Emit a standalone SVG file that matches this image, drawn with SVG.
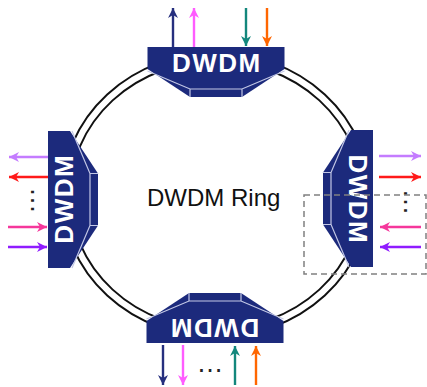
<svg xmlns="http://www.w3.org/2000/svg" xmlns:xlink="http://www.w3.org/1999/xlink" width="427" height="387" viewBox="0 0 427 387">
<style>
.dev{fill:#1c2a7c}
.hl{fill:none;stroke:#c3c8e6;stroke-width:1.2}
.lbl{font-family:"Liberation Sans",Arial,sans-serif;font-weight:bold;font-size:26px;fill:#fff;letter-spacing:1.5px}
.ring-t{font-family:"Liberation Sans",Arial,sans-serif;font-size:24px;fill:#111}
.dots{font-family:"Liberation Sans",Arial,sans-serif;font-size:27px;fill:#222}
.ar{fill:none;stroke-width:2.4}
</style>
<defs>
<g id="dev">
<polygon class="dev" points="-68.5,0 68.5,0 68.5,22 26,50 -26,50 -68.5,22"/>
<path class="hl" d="M-68.5,24 L-26,42 L26,42 L68.5,24 M-26,42 V50 M26,42 V50"/>
</g>
<marker id="m-navy" viewBox="0 0 10 10" refX="10" refY="5" markerWidth="10" markerHeight="10" markerUnits="userSpaceOnUse" orient="auto"><path d="M0,0 L10,5 L0,10 L3,5 z" fill="#262f7e"/></marker>
<marker id="m-mag" viewBox="0 0 10 10" refX="10" refY="5" markerWidth="10" markerHeight="10" markerUnits="userSpaceOnUse" orient="auto"><path d="M0,0 L10,5 L0,10 L3,5 z" fill="#ff5cff"/></marker>
<marker id="m-teal" viewBox="0 0 10 10" refX="10" refY="5" markerWidth="10" markerHeight="10" markerUnits="userSpaceOnUse" orient="auto"><path d="M0,0 L10,5 L0,10 L3,5 z" fill="#13877c"/></marker>
<marker id="m-org" viewBox="0 0 10 10" refX="10" refY="5" markerWidth="10" markerHeight="10" markerUnits="userSpaceOnUse" orient="auto"><path d="M0,0 L10,5 L0,10 L3,5 z" fill="#ff6600"/></marker>
<marker id="m-lav" viewBox="0 0 10 10" refX="10" refY="5" markerWidth="10" markerHeight="10" markerUnits="userSpaceOnUse" orient="auto"><path d="M0,0 L10,5 L0,10 L3,5 z" fill="#c47cff"/></marker>
<marker id="m-red" viewBox="0 0 10 10" refX="10" refY="5" markerWidth="10" markerHeight="10" markerUnits="userSpaceOnUse" orient="auto"><path d="M0,0 L10,5 L0,10 L3,5 z" fill="#ff1a1a"/></marker>
<marker id="m-pink" viewBox="0 0 10 10" refX="10" refY="5" markerWidth="10" markerHeight="10" markerUnits="userSpaceOnUse" orient="auto"><path d="M0,0 L10,5 L0,10 L3,5 z" fill="#f5379b"/></marker>
<marker id="m-pur" viewBox="0 0 10 10" refX="10" refY="5" markerWidth="10" markerHeight="10" markerUnits="userSpaceOnUse" orient="auto"><path d="M0,0 L10,5 L0,10 L3,5 z" fill="#8f1cff"/></marker>
</defs>
<rect width="427" height="387" fill="#fff"/>
<g id="ring">
<ellipse cx="216" cy="195" rx="150" ry="138" fill="none" stroke="#111" stroke-width="10"/>
<ellipse cx="216" cy="195" rx="150" ry="138" fill="none" stroke="#fff" stroke-width="6"/>
</g>
<g id="node-top" transform="translate(216,47)"><use xlink:href="#dev" href="#dev"/><text class="lbl" x="0.75" y="24.5" text-anchor="middle">DWDM</text></g>
<g id="node-bottom" transform="translate(215,343) rotate(180)"><use xlink:href="#dev" href="#dev"/><text class="lbl" x="0.75" y="24.5" text-anchor="middle">DWDM</text></g>
<g id="node-left" transform="translate(48,199.5) rotate(-90)"><use xlink:href="#dev" href="#dev"/><text class="lbl" x="0.75" y="24.5" text-anchor="middle">DWDM</text></g>
<g id="node-right" transform="translate(373,198.5) rotate(90)"><use xlink:href="#dev" href="#dev"/><text class="lbl" x="0.75" y="24.5" text-anchor="middle">DWDM</text></g>
<text id="ring-label" class="ring-t" x="147" y="206">DWDM Ring</text>
<g id="connectors">
<path class="ar" d="M173,47 V8" stroke="#262f7e" marker-end="url(#m-navy)"/>
<path class="ar" d="M194,47 V8" stroke="#ff5cff" marker-end="url(#m-mag)"/>
<path class="ar" d="M246,8 V46" stroke="#13877c" marker-end="url(#m-teal)"/>
<path class="ar" d="M267,8 V46" stroke="#ff6600" marker-end="url(#m-org)"/>
<path class="ar" d="M163,345 V385" stroke="#262f7e" marker-end="url(#m-navy)"/>
<path class="ar" d="M183,345 V385" stroke="#ff5cff" marker-end="url(#m-mag)"/>
<path class="ar" d="M235,385 V346" stroke="#13877c" marker-end="url(#m-teal)"/>
<path class="ar" d="M256,385 V346" stroke="#ff6600" marker-end="url(#m-org)"/>
<path class="ar" d="M48,157 H9" stroke="#c47cff" marker-end="url(#m-lav)"/>
<path class="ar" d="M48,177 H9" stroke="#ff1a1a" marker-end="url(#m-red)"/>
<path class="ar" d="M8,227 H47" stroke="#f5379b" marker-end="url(#m-pink)"/>
<path class="ar" d="M8,247 H47" stroke="#8f1cff" marker-end="url(#m-pur)"/>
<path class="ar" d="M379,156 H421" stroke="#c47cff" marker-end="url(#m-lav)"/>
<path class="ar" d="M379,177 H421" stroke="#ff1a1a" marker-end="url(#m-red)"/>
<path class="ar" d="M421,227 H380" stroke="#f5379b" marker-end="url(#m-pink)"/>
<path class="ar" d="M421,247 H380" stroke="#8f1cff" marker-end="url(#m-pur)"/>
</g>
<text class="dots" x="210" y="371.5" text-anchor="middle">…</text>
<text class="dots" transform="translate(33,200.5) rotate(-90)" x="0" y="1.4" text-anchor="middle">…</text>
<text class="dots" transform="translate(406,202) rotate(-90)" x="0" y="1.4" text-anchor="middle">…</text>
<rect id="highlight" x="304" y="195" width="122" height="79" fill="none" stroke="#808080" stroke-width="1.5" stroke-dasharray="6 4"/>
</svg>
